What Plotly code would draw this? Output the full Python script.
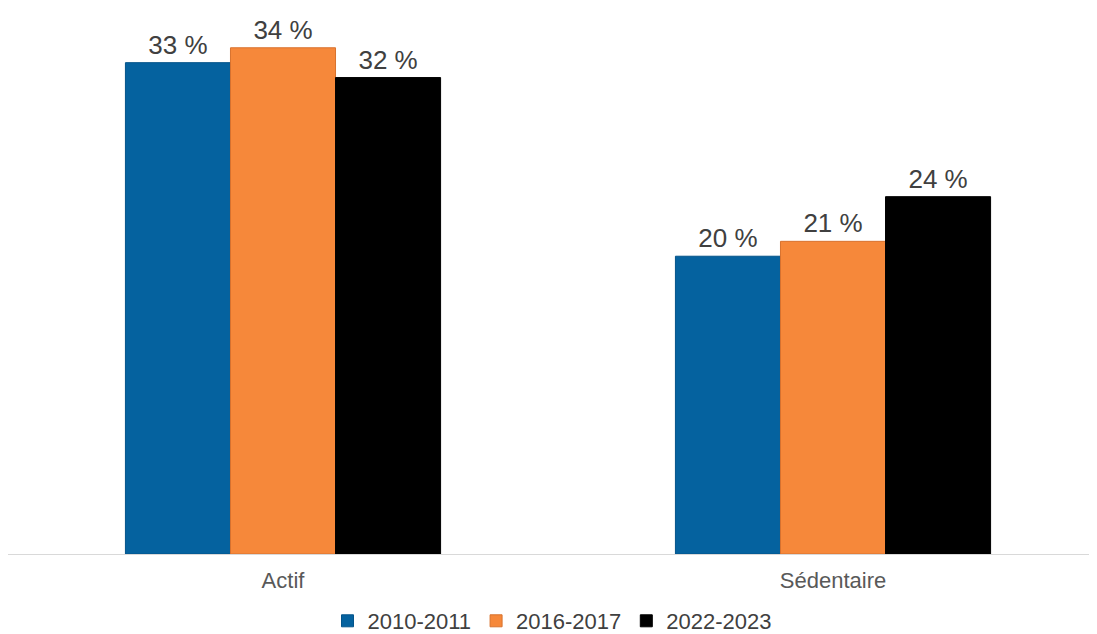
import plotly.graph_objects as go

categories = ["Actif", "Sédentaire"]
series_names = ["2010-2011", "2016-2017", "2022-2023"]
values_2010 = [33, 20]
values_2016 = [34, 21]
values_2022 = [32, 24]
colors = ["#05629F", "#F6883A", "#000000"]
line_colors = ["#04548a", "#d8722e", "#000000"]

fig = go.Figure()
for name, vals, c, lc in zip(series_names, [values_2010, values_2016, values_2022], colors, line_colors):
    fig.add_trace(go.Bar(
        x=categories, y=vals, name=name,
        marker=dict(color=c, line=dict(color=lc, width=1)),
        text=[f"{v} %" for v in vals], textposition="outside",
        textfont=dict(family="Liberation Sans, Arial", size=26, color="#404040"),
        cliponaxis=False,
    ))

fig.update_layout(
    width=1097, height=634,
    barmode="group", bargap=0.427, bargroupgap=0,
    plot_bgcolor="white", paper_bgcolor="white",
    margin=dict(l=0, r=8, t=10, b=88),
    font=dict(family="Liberation Sans, Arial", color="#595959"),
    xaxis=dict(range=[-0.5, 1.48], showline=True, linecolor="#d9d9d9", linewidth=1,
               ticks="", tickfont=dict(size=22, color="#595959"), showgrid=False,
               ticklabelstandoff=7),
    yaxis=dict(range=[0, 36], visible=False, showgrid=False),
    legend=dict(orientation="h", x=0.5, xanchor="center", y=-0.125, yanchor="middle",
                font=dict(size=22, color="#404040"), itemwidth=30, tracegroupgap=0),
    showlegend=True,
)
fig.write_html("out.html")
